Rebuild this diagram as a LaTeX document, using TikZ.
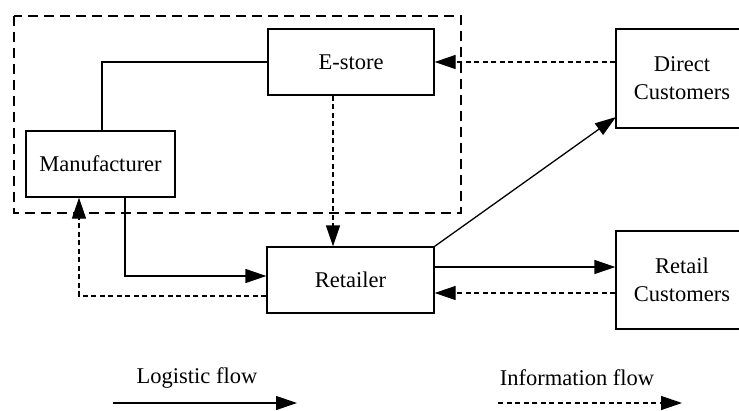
\documentclass[tikz,border=0pt]{standalone}
\usepackage{fontspec}
\setmainfont{Liberation Serif}
\usetikzlibrary{arrows.meta,calc}
\begin{document}
\begin{tikzpicture}[x=1pt,y=-1pt,
  every node/.style={font=\fontsize{22.5}{28}\selectfont},
  box/.style={draw,line width=1.3pt,inner sep=0pt,align=center},
  conn/.style={line width=1.3pt},
  info/.style={line width=1.3pt,dash pattern=on 5pt off 3.5pt},
  tip/.style={-{Triangle[length=21pt,width=14pt]}},
  group/.style={line width=1.3pt,dash pattern=on 10pt off 6pt}]
\useasboundingbox (0,0) rectangle (739,410);
\clip (0,0) rectangle (739,410);
% group dashed box
\draw[group] (14,16) rectangle (461,213);
% nodes
\node[box,minimum width=166pt,minimum height=66pt] (estore) at (351,62) {E-store};
\node[box,minimum width=149pt,minimum height=66pt] (manu) at (100.5,164) {Manufacturer};
\node[box,minimum width=167pt,minimum height=66pt] (ret) at (350.5,280) {Retailer};
\node[box,minimum width=132pt,minimum height=99pt] (direct) at (682,78.5) {Direct\\Customers};
\node[box,minimum width=132pt,minimum height=98pt] (retail) at (682,280) {Retail\\Customers};
% manufacturer -- e-store
\coordinate (c1) at (102,62);
\draw[conn] (manu.north -| c1) |- (estore.west);
% direct customers -> e-store (info)
\draw[info,tip] (direct.west |- estore.east) -- (estore.east);
% e-store -> retailer (info)
\coordinate (c2) at (333,0);
\draw[info,tip] (estore.south -| c2) -- (ret.north -| c2);
% manufacturer -> retailer (logistic)
\coordinate (c3) at (125,276);
\draw[conn,tip] (manu.south -| c3) |- (ret.west |- c3);
% retailer -> manufacturer (info)
\coordinate (c4) at (79,296);
\draw[info,tip] (ret.west |- c4) -| (manu.south -| c4);
% retailer -> direct customers
\coordinate (c5) at (616,117);
\draw[conn,tip] (ret.north east) -- (c5);
% retailer -> retail customers
\coordinate (c6) at (0,267);
\coordinate (c7) at (0,293);
\draw[conn,tip] (ret.east |- c6) -- (retail.west |- c6);
\draw[info,tip] (retail.west |- c7) -- (ret.east |- c7);
% legend
\node (lg1) at (197,378) {Logistic flow};
\node (lg2) at (577,378) {Information flow};
\coordinate (la) at (113,403);
\coordinate (lb) at (297,403);
\coordinate (lc) at (498,403);
\coordinate (ld) at (682,403);
\draw[conn,tip] (la) -- (lb);
\draw[info,tip] (lc) -- (ld);
\end{tikzpicture}
\end{document}
